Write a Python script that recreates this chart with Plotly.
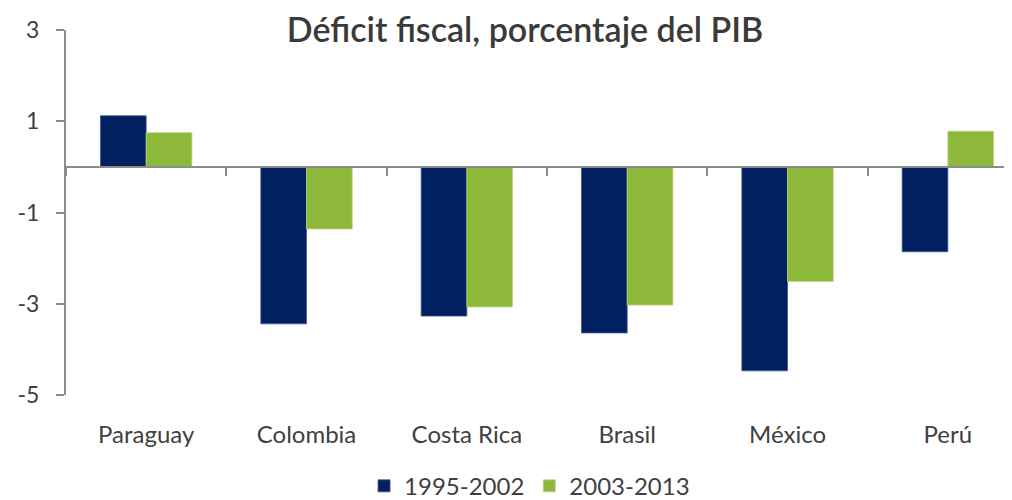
import plotly.graph_objects as go

countries = ["Paraguay", "Colombia", "Costa Rica", "Brasil", "México", "Perú"]
serie_1995_2002 = [1.12, -3.44, -3.27, -3.64, -4.47, -1.86]
serie_2003_2013 = [0.75, -1.36, -3.07, -3.03, -2.51, 0.78]
y_ticks = [-5, -3, -1, 1, 3]
y_tick_labels = [str(v) for v in y_ticks]

FONT = "Lato"
TXT = "#404040"
AX = "#8C8C8C"

fig = go.Figure()
fig.add_trace(go.Bar(x=countries, y=serie_1995_2002, name="1995-2002",
                     marker=dict(color="#002060", line=dict(color="#3F5A8A", width=0.8))))
fig.add_trace(go.Bar(x=countries, y=serie_2003_2013, name="2003-2013",
                     marker=dict(color="#8DB83A", line=dict(color="#B5D67A", width=0.8))))
# invisible trace to carry the zero-line category axis
fig.add_trace(go.Scatter(x=countries, y=[0] * len(countries), xaxis="x2", mode="markers",
                         marker=dict(opacity=0), showlegend=False, hoverinfo="skip"))

xr = [-0.5, 5.4]
fig.update_layout(
    width=1004, height=492,
    margin=dict(l=58, r=0, t=22, b=105, autoexpand=False),
    paper_bgcolor="white", plot_bgcolor="white",
    barmode="group", bargap=0.43, bargroupgap=0,
    font=dict(family=FONT, color=TXT),
    title=dict(text="Déficit fiscal, porcentaje del PIB", x=0.515, xanchor="center",
               y=0.955, yanchor="middle",
               font=dict(size=34, color="#3A3A3A", family=FONT, weight=600)),
    xaxis=dict(range=xr, showline=False, showgrid=False, zeroline=False,
               ticks="outside", ticklen=18, tickcolor="rgba(0,0,0,0)",
               tickfont=dict(size=24, color=TXT)),
    xaxis2=dict(range=xr, overlaying="x", anchor="free", position=0.625,
                showline=True, linecolor=AX, linewidth=2, showgrid=False, zeroline=False,
                ticks="outside", tickson="boundaries", ticklen=8, tickwidth=2, tickcolor=AX,
                showticklabels=False, type="category"),
    yaxis=dict(range=[-5, 3], tickvals=y_ticks, ticktext=y_tick_labels,
               showgrid=False, zeroline=False,
               showline=True, linecolor=AX, linewidth=2,
               ticks="outside", ticklen=8, tickwidth=2, tickcolor=AX,
               ticklabelstandoff=12, tickfont=dict(size=23, color=TXT)),
    legend=dict(orientation="h", x=0.49, xanchor="center", y=-0.25, yanchor="middle",
                font=dict(size=24, color=TXT), itemwidth=30, traceorder="normal"),
)

fig.write_html("out.html")
